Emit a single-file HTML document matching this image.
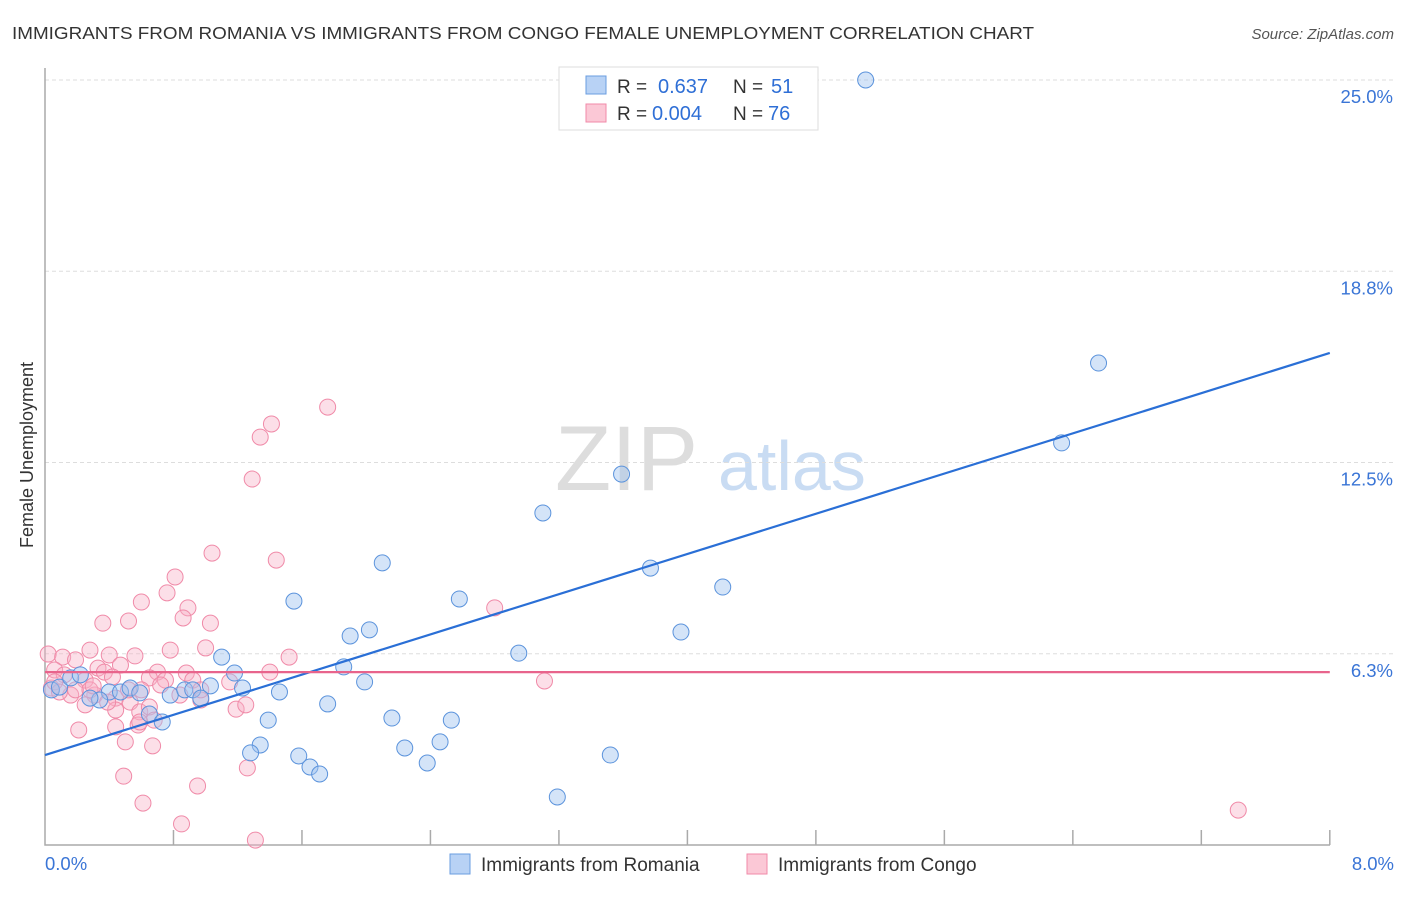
<!DOCTYPE html>
<html><head><meta charset="utf-8"><style>
body{margin:0;background:#fff;font-family:"Liberation Sans",sans-serif}
svg text{font-family:"Liberation Sans",sans-serif}
</style></head><body>
<svg id="c" width="1406" height="892">
<text x="12" y="39" font-size="17.5" fill="#333" textLength="1022" lengthAdjust="spacingAndGlyphs">IMMIGRANTS FROM ROMANIA VS IMMIGRANTS FROM CONGO FEMALE UNEMPLOYMENT CORRELATION CHART</text>
<text x="1394" y="39" font-size="15" fill="#555" font-style="italic" text-anchor="end">Source: ZipAtlas.com</text>
<text transform="translate(33,455) rotate(-90)" font-size="18" fill="#333" text-anchor="middle">Female Unemployment</text>
<g><text x="555" y="490" font-size="92" font-family="Liberation Serif" fill="#ddd">ZIP</text><text x="718" y="490" font-size="70" fill="#c9dcf3">atlas</text></g>
<g id="grid"></g><g id="pts"></g><g id="lines"></g>
<g>
<rect x="559" y="67" width="259" height="63" fill="#fff" stroke="#ddd"/>
<rect x="586" y="76" width="20" height="18" fill="#b8d2f5" stroke="#6a9de0"/>
<rect x="586" y="104" width="20" height="18" fill="#fbc8d6" stroke="#f08aa8"/>
<text x="617" y="93" font-size="19" fill="#333">R =</text><text x="658" y="93" font-size="20" fill="#2f6fd6">0.637</text>
<text x="733" y="93" font-size="19" fill="#333">N =</text><text x="771" y="93" font-size="20" fill="#2f6fd6">51</text>
<text x="617" y="120" font-size="19" fill="#333">R =</text><text x="652" y="120" font-size="20" fill="#2f6fd6">0.004</text>
<text x="733" y="120" font-size="19" fill="#333">N =</text><text x="768" y="120" font-size="20" fill="#2f6fd6">76</text>
</g>
<g>
<rect x="450" y="854" width="20" height="20" fill="#b8d2f5" stroke="#6a9de0"/>
<text x="481" y="871" font-size="19" fill="#333">Immigrants from Romania</text>
<rect x="747" y="854" width="20" height="20" fill="#fbc8d6" stroke="#f08aa8"/>
<text x="778" y="871" font-size="19" fill="#333">Immigrants from Congo</text>
</g>
</svg>
<script>
const yTicks=[25.0,18.8,12.5,6.3];
const yTickLabels=["25.0%","18.8%","12.5%","6.3%"];
const xTickLabels=["0.0%","8.0%"];
const romaniaX=[5.11,6.56,6.33,3.59,3.10,2.10,3.77,4.22,2.58,1.55,3.96,2.02,1.90,2.95,1.10,1.86,1.18,1.99,0.04,0.09,0.16,0.22,0.40,0.47,0.53,0.59,0.78,0.87,0.92,1.03,1.23,1.46,0.97,0.34,0.28,1.76,0.65,0.73,1.39,2.16,2.53,1.34,1.28,1.58,2.24,2.46,1.65,1.71,2.38,3.52,3.19];
const romaniaY=[25.0,15.75,13.14,12.12,10.85,9.22,9.05,8.43,8.04,7.97,6.96,7.03,6.83,6.27,6.14,5.82,5.62,5.33,5.07,5.16,5.46,5.56,5.00,5.00,5.13,4.97,4.90,5.07,5.07,5.20,5.13,5.00,4.80,4.74,4.80,4.61,4.28,4.02,4.08,4.15,4.08,3.27,3.01,2.91,3.17,3.37,2.55,2.32,2.68,2.94,1.57];
const congoX=[1.76,1.41,1.34,1.29,1.04,1.44,0.81,0.76,0.89,0.60,0.36,0.52,0.86,1.03,2.80,0.28,0.40,0.56,0.78,1.00,1.52,0.02,0.11,0.19,0.33,0.47,0.70,0.88,1.40,3.11,0.06,0.12,0.25,0.37,0.65,0.75,0.92,0.97,0.04,0.16,0.31,0.44,0.53,0.60,0.72,0.42,1.15,0.25,0.44,0.59,0.65,1.19,1.25,0.21,0.44,0.58,0.50,0.67,0.49,0.61,0.95,0.85,1.31,1.26,7.43,0.06,0.09,0.19,0.97,0.84,0.28,0.39,0.52,0.68,0.59,0.30];
const congoY=[14.31,13.76,13.33,11.96,9.54,9.31,8.76,8.24,7.75,7.94,7.25,7.32,7.42,7.25,7.75,6.37,6.21,6.18,6.37,6.44,6.14,6.24,6.14,6.05,5.78,5.88,5.65,5.62,5.65,5.36,5.72,5.56,5.39,5.65,5.46,5.39,5.39,4.74,5.13,4.90,4.90,4.80,4.67,5.07,5.23,5.49,5.33,4.58,4.41,4.35,4.51,4.44,4.58,3.76,3.86,3.92,3.37,3.24,2.25,1.37,1.93,0.69,0.16,2.52,1.14,5.33,5.00,5.07,5.07,4.90,5.07,4.67,5.07,4.08,4.02,5.20];
const romaniaTrend=[2.94,16.08];
const congoTrend=[5.65,5.65];
const X=v=>45+v*160.6, Y=v=>845-v*30.6;
const NS='http://www.w3.org/2000/svg';
function mk(t,a,p){const e=document.createElementNS(NS,t);for(const k in a)e.setAttribute(k,a[k]);p.appendChild(e);return e;}
const grid=document.getElementById('grid');
const gy=[25,18.75,12.5,6.25];
gy.forEach((v,i)=>{
 const l=mk('line',{x1:45,x2:1395,y1:Y(v),y2:Y(v),stroke:'#ddd','stroke-dasharray':'4 3'},grid);
 
 
 const t=mk('text',{x:1393,y:Y(v)+23,'font-size':18.5,fill:'#3a75d6','text-anchor':'end'},grid);
 t.textContent=yTickLabels[i];
 
 
});
const ax=mk('path',{d:'M45,68V845H1330',stroke:'#aaa',fill:'none','stroke-width':1.5},grid);


for(let i=1;i<=10;i++){const t=mk('line',{x1:X(i*0.8),x2:X(i*0.8),y1:830,y2:845,stroke:'#aaa','stroke-width':1.5},grid);
 
 }
[[0,'start',45],[8,'end',1394]].forEach((d,i)=>{const t=mk('text',{x:d[2],y:870,'font-size':18.5,fill:'#3a75d6','text-anchor':d[1]},grid);t.textContent=xTickLabels[i];
 
 });
const pts=document.getElementById('pts');
congoX.forEach((x,i)=>{const c=mk('circle',{cx:X(x),cy:Y(congoY[i]),r:8,fill:'rgba(248,175,198,0.4)',stroke:'#f08aa8','stroke-width':1},pts);
 
 });
romaniaX.forEach((x,i)=>{const c=mk('circle',{cx:X(x),cy:Y(romaniaY[i]),r:8,fill:'rgba(160,195,240,0.45)',stroke:'#5b93dc','stroke-width':1},pts);
 
 });
const lines=document.getElementById('lines');
const l1=mk('line',{x1:X(0),x2:X(8),y1:Y(romaniaTrend[0]),y2:Y(romaniaTrend[1]),stroke:'#2a6fd6','stroke-width':2.2},lines);


const l2=mk('line',{x1:X(0),x2:X(8),y1:Y(congoTrend[0]),y2:Y(congoTrend[1]),stroke:'#e8648c','stroke-width':2.2},lines);


</script>
</body></html>
